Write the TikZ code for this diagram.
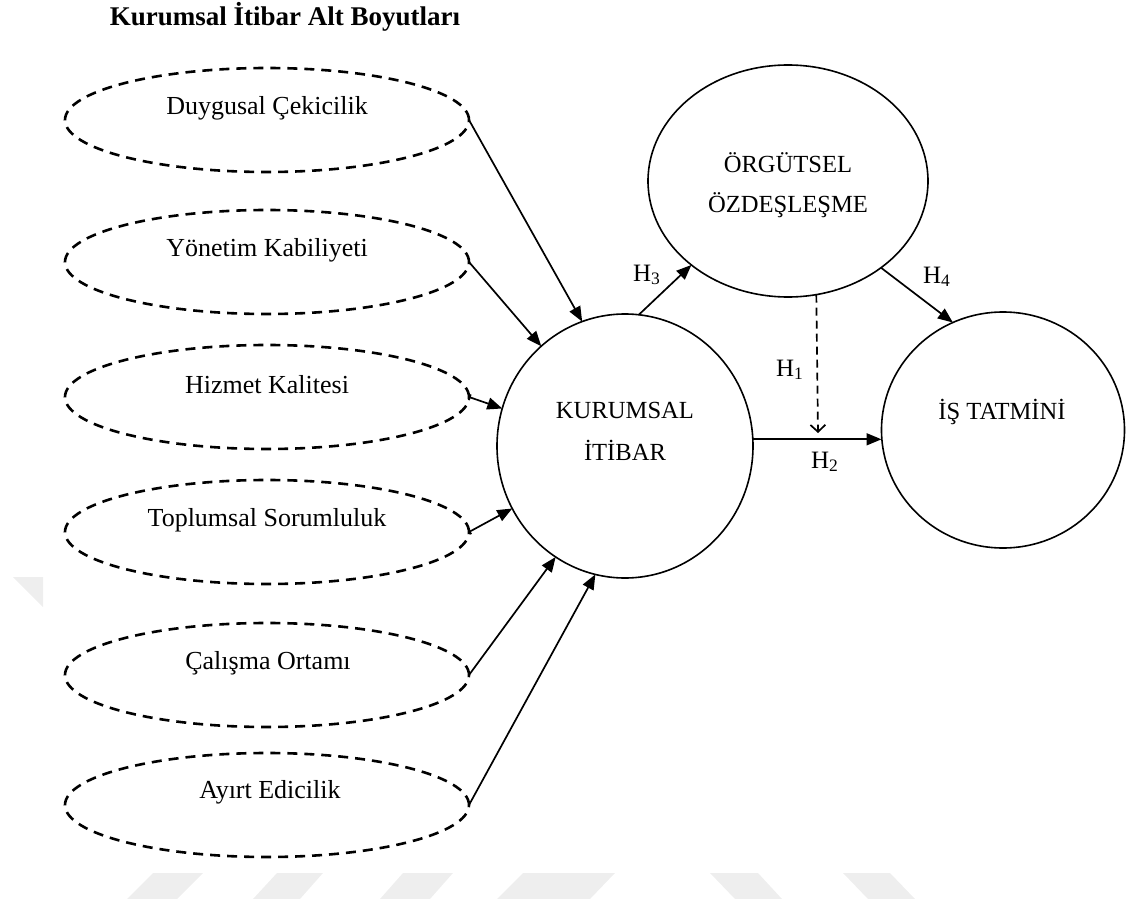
\documentclass[tikz,border=0pt]{standalone}
\usepackage{fontspec}
\setmainfont{Liberation Serif}
\usetikzlibrary{arrows.meta,shapes.geometric}
\definecolor{wmgray}{HTML}{EEEEEE}
\begin{document}
\begin{tikzpicture}[x=0.5pt,y=-0.5pt,
  dimbox/.style={ellipse,draw,dash pattern=on 5pt off 3.5pt,line width=1.3pt,
    minimum width=202pt,minimum height=52pt,inner sep=0pt,outer sep=0pt},
  construct/.style={ellipse,draw,line width=0.8pt,inner sep=0pt,outer sep=0pt},
  dimtext/.style={font=\fontsize{13pt}{15.6pt}\selectfont,inner sep=0pt},
  context/.style={font=\fontsize{12.3pt}{14.8pt}\selectfont,inner sep=0pt},
  hyp/.style={font=\fontsize{12.5pt}{15pt}\selectfont,inner sep=0pt},
  arr/.style={line width=0.85pt,-{Triangle[length=7.5pt,width=6pt]}},
  barr/.style={line width=0.85pt,{Bar[width=3pt]}-{Triangle[length=7.5pt,width=6pt]}},
  wm/.style={fill=wmgray,draw=none}
]
\useasboundingbox (0,0) rectangle (1131,899);

% faint background marks
\fill[wm] (13,577) -- (43,577) -- (43,607) -- cycle;
\fill[wm] (153,873) -- (203,873) -- (177,899) -- (127,899) -- cycle;
\fill[wm] (277,873) -- (323,873) -- (300,899) -- (253,899) -- cycle;
\fill[wm] (403,873) -- (453,873) -- (430,899) -- (380,899) -- cycle;
\fill[wm] (523,873) -- (615,873) -- (590,899) -- (497,899) -- cycle;
\fill[wm] (710,873) -- (758,873) -- (782,899) -- (735,899) -- cycle;
\fill[wm] (843,873) -- (890,873) -- (915,899) -- (868,899) -- cycle;

% title
\node[font=\fontsize{13.5pt}{16pt}\selectfont\bfseries,inner sep=0pt] (title) at (285,17) {Kurumsal İtibar Alt Boyutları};

% sub-dimensions
\node[dimbox] (e1) at (267,120) {};
\node[dimbox] (e2) at (267,262) {};
\node[dimbox] (e3) at (267,397) {};
\node[dimbox] (e4) at (267,532) {};
\node[dimbox] (e5) at (267,675) {};
\node[dimbox] (e6) at (267,805) {};
\node[dimtext] (t1) at (267,108) {Duygusal Çekicilik};
\node[dimtext] (t2) at (267,250) {Yönetim Kabiliyeti};
\node[dimtext] (t3) at (267,385) {Hizmet Kalitesi};
\node[dimtext] (t4) at (267,520) {Toplumsal Sorumluluk};
\node[dimtext] (t5) at (268,663) {Çalışma Ortamı};
\node[dimtext] (t6) at (270,792) {Ayırt Edicilik};

% main constructs
\node[construct,minimum width=128pt,minimum height=132pt] (K) at (625,446) {};
\node[construct,minimum width=140pt,minimum height=116pt] (O) at (788,181) {};
\node[construct,minimum width=121.5pt,minimum height=118pt] (I) at (1003,430) {};
\node[context] (kt1) at (625,410) {KURUMSAL};
\node[context] (kt2) at (625,450) {İTİBAR};
\node[context] (ot1) at (788,163) {ÖRGÜTSEL};
\node[context] (ot2) at (788,205) {ÖZDEŞLEŞME};
\node[context] (it1) at (1002,412) {İŞ TATMİNİ};

% sub-dimensions -> corporate reputation
\draw[arr] (e1.east) -- (K.109);
\draw[arr] (e2.east) -- (K.130);
\draw[barr] (e3.east) -- (K.163);
\draw[barr] (e4.east) -- (K.209.5);
\draw[arr] (e5.east) -- (K.238.7);
\draw[arr] (e6.east) -- (K.257.6);

% hypotheses
\draw[arr] (K.84.8) -- (O.221.9);
\draw[arr] (O.317.2) -- (I.115.3);
\draw[arr] (K.3) -- (K.3 -| I.west);
\coordinate (h1end) at (818,433);
\draw[line width=0.85pt,dash pattern=on 4pt off 2.5pt,-{Straight Barb[length=3.5pt,width=7.5pt]}] (O.284.8) -- (h1end);

\node[hyp] (h3) at (647,275) {H\textsubscript{3}};
\node[hyp] (h4) at (937,277) {H\textsubscript{4}};
\node[hyp] (h1) at (790,370) {H\textsubscript{1}};
\node[hyp] (h2) at (825,462) {H\textsubscript{2}};
\end{tikzpicture}
\end{document}
